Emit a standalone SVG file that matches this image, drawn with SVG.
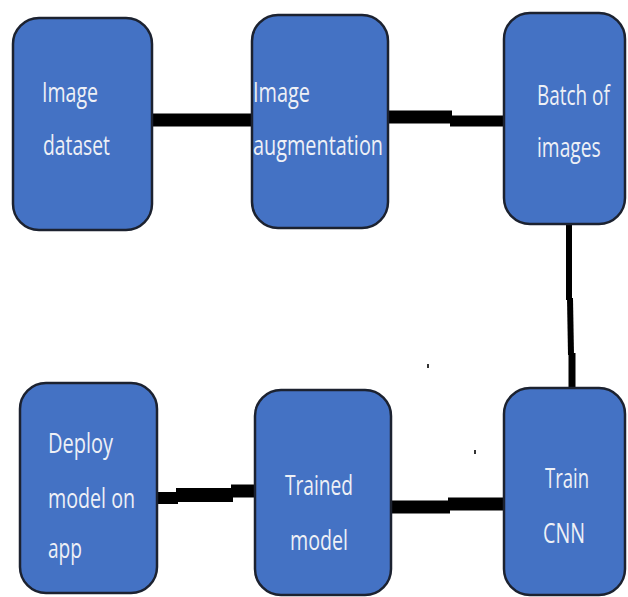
<svg xmlns="http://www.w3.org/2000/svg" width="628" height="597" viewBox="0 0 628 597">
<style>
.box{fill:#4472C4;stroke:#1c2230;stroke-width:2.5}
.t{font-family:"Open Sans","Liberation Sans",sans-serif;font-size:28px;fill:#eef0f6}
.c{stroke:#000;fill:none;stroke-linecap:butt}
</style>
<rect width="628" height="597" fill="#fff"/>
<g id="connectors">
<line class="c" x1="150" y1="120" x2="254" y2="120" stroke-width="13"/>
<line class="c" x1="386" y1="117" x2="452" y2="117" stroke-width="13"/>
<line class="c" x1="450" y1="121" x2="510" y2="121" stroke-width="11"/>
<circle cx="510" cy="121" r="5.5" fill="#000"/>
<line class="c" x1="569" y1="218" x2="569" y2="300" stroke-width="6"/>
<line class="c" x1="570" y1="298" x2="571" y2="355" stroke-width="6"/>
<line class="c" x1="572" y1="353" x2="572" y2="400" stroke-width="7"/>
<circle cx="569" cy="218" r="3" fill="#000"/>
<circle cx="572" cy="400" r="3.5" fill="#000"/>
<line class="c" x1="390" y1="507" x2="450" y2="507" stroke-width="13"/>
<line class="c" x1="448" y1="504" x2="506" y2="504" stroke-width="13"/>
<line class="c" x1="156" y1="498" x2="178" y2="498" stroke-width="12"/>
<line class="c" x1="176" y1="495" x2="233" y2="495" stroke-width="14"/>
<line class="c" x1="231" y1="491" x2="256" y2="491" stroke-width="13"/>
<circle cx="256" cy="491" r="6" fill="#000"/>
<rect x="427" y="364" width="2" height="4" fill="#333"/>
<rect x="474" y="450" width="2" height="4" fill="#333"/>
</g>
<g id="n1"><rect class="box" x="13" y="18" width="139" height="212" rx="26"/>
<text class="t" x="42" y="102" textLength="56" lengthAdjust="spacingAndGlyphs">Image</text>
<text class="t" x="43" y="155" textLength="67" lengthAdjust="spacingAndGlyphs">dataset</text></g>
<g id="n2"><rect class="box" x="252" y="15" width="136" height="213" rx="26"/>
<text class="t" x="253" y="102" textLength="57" lengthAdjust="spacingAndGlyphs">Image</text>
<text class="t" x="253" y="155" textLength="130" lengthAdjust="spacingAndGlyphs">augmentation</text></g>
<g id="n3"><rect class="box" x="504" y="13" width="121" height="211" rx="26"/>
<g transform="translate(537,0) scale(0.7,1)">
<text class="t" x="0" y="105" textLength="104" lengthAdjust="spacingAndGlyphs">Batch of</text>
<text class="t" x="0" y="157" textLength="91" lengthAdjust="spacingAndGlyphs">images</text></g></g>
<g id="n4"><rect class="box" x="504" y="388" width="121" height="207" rx="26"/>
<text class="t" x="545" y="488" textLength="44" lengthAdjust="spacingAndGlyphs">Train</text>
<text class="t" x="543" y="543" textLength="42" lengthAdjust="spacingAndGlyphs">CNN</text></g>
<g id="n5"><rect class="box" x="255" y="390" width="136" height="205" rx="26"/>
<text class="t" x="285" y="495" textLength="68" lengthAdjust="spacingAndGlyphs">Trained</text>
<text class="t" x="290" y="550" textLength="58" lengthAdjust="spacingAndGlyphs">model</text></g>
<g id="n6"><rect class="box" x="20" y="383" width="137" height="210" rx="26"/>
<text class="t" x="48" y="453" textLength="65" lengthAdjust="spacingAndGlyphs">Deploy</text>
<text class="t" x="48" y="508" textLength="87" lengthAdjust="spacingAndGlyphs">model on</text>
<text class="t" x="48" y="558" textLength="34" lengthAdjust="spacingAndGlyphs">app</text></g>
</svg>
